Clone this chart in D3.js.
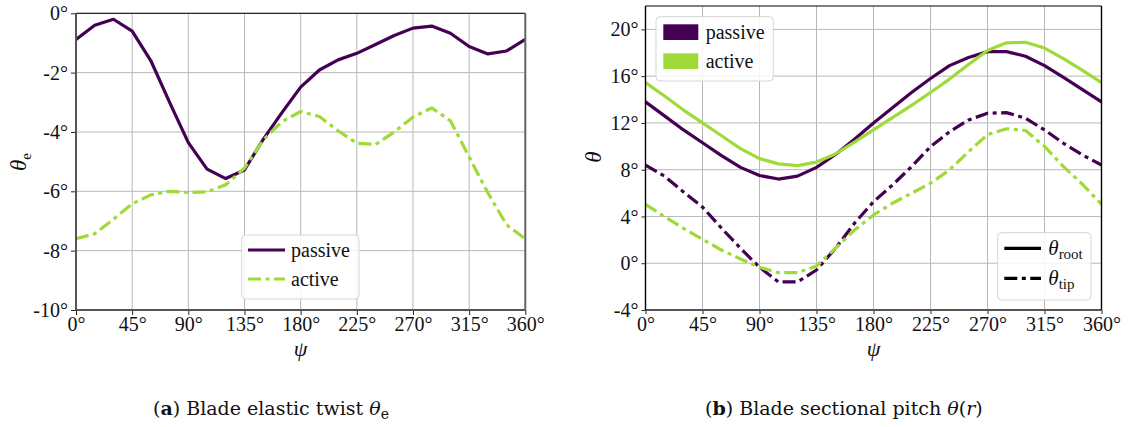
<!DOCTYPE html>
<html>
<head>
<meta charset="utf-8">
<script src="https://cdn.jsdelivr.net/npm/d3@7/dist/d3.min.js"></script>
<style>
  html, body { margin: 0; padding: 0; background: #fff; }
  svg { display: block; }
  svg text { font-family: "Liberation Serif", "DejaVu Serif", "Noto Serif", serif; fill: #111; }
  svg text.caption { font-family: "DejaVu Serif", "Liberation Serif", serif; }
</style>
</head>
<body>
<svg id="fig" width="1130" height="427"></svg>
<script>
// Azimuth samples (deg)
const psi = [0, 15, 30, 45, 60, 75, 90, 105, 120, 135, 150, 165, 180,
             195, 210, 225, 240, 255, 270, 285, 300, 315, 330, 345, 360];

// Blade elastic twist theta_e (deg)
const twistPassive = [-0.88, -0.40, -0.20, -0.60, -1.60, -3.00, -4.36, -5.25, -5.57, -5.28,
                      -4.25, -3.35, -2.49, -1.91, -1.57, -1.35, -1.05, -0.75, -0.50, -0.43,
                      -0.67, -1.12, -1.37, -1.27, -0.88];
const twistActive = [-7.60, -7.43, -6.94, -6.42, -6.12, -6.00, -6.04, -6.02, -5.78, -5.22,
                     -4.27, -3.65, -3.31, -3.48, -3.96, -4.38, -4.42, -4.00, -3.50, -3.19,
                     -3.62, -4.84, -6.05, -7.13, -7.60];

// Blade sectional pitch theta(r) (deg)
const rootPassive = [13.8, 12.6, 11.4, 10.3, 9.2, 8.2, 7.5, 7.2, 7.45, 8.2,
                     9.3, 10.6, 12.0, 13.3, 14.6, 15.8, 16.9, 17.6, 18.1, 18.1,
                     17.7, 16.9, 15.9, 14.85, 13.8];
const rootActive = [15.45, 14.3, 13.1, 12.0, 10.9, 9.8, 8.95, 8.5, 8.35, 8.65,
                    9.35, 10.35, 11.4, 12.45, 13.5, 14.6, 15.75, 17.0, 18.2, 18.85,
                    18.9, 18.4, 17.5, 16.5, 15.45];
const tipPassive = [8.4, 7.45, 6.1, 4.8, 3.0, 1.28, -0.35, -1.6, -1.6, -0.58,
                    1.28, 3.42, 5.26, 6.69, 8.26, 9.97, 11.25, 12.25, 12.83, 12.88,
                    12.4, 11.4, 10.26, 9.26, 8.4];
const tipActive = [5.04, 3.98, 2.99, 2.05, 1.13, 0.36, -0.35, -0.81, -0.81, -0.24,
                   1.28, 2.84, 4.13, 5.13, 5.98, 6.84, 7.98, 9.54, 11.0, 11.5,
                   11.35, 10.0, 8.26, 6.75, 5.04];

// Axis ticks
const psiTicks = [0, 45, 90, 135, 180, 225, 270, 315, 360];
const twistTicks = [0, -2, -4, -6, -8, -10];
const pitchTicks = [-4, 0, 4, 8, 12, 16, 20];

const PURPLE = "#440154";
const GREEN = "#a0da39";
const DASHDOT = "13,4.5,4,4.5";
const LW = 3.2;
const FONT = '"Liberation Serif", "DejaVu Serif", "Noto Serif", serif';

const svg = d3.select("#fig");

function deg(v) { return v + "\u00b0"; }

function panel(opts) {
  const g = svg.append("g");
  const x = d3.scaleLinear().domain([0, 360]).range([opts.x0, opts.x1]);
  const y = d3.scaleLinear().domain(opts.ydom).range([opts.y1, opts.y0]);

  // grid
  g.append("g").selectAll("line").data(psiTicks).join("line")
    .attr("x1", d => x(d)).attr("x2", d => x(d))
    .attr("y1", opts.y0).attr("y2", opts.y1)
    .attr("stroke", "#b8b8b8").attr("stroke-width", 1);
  g.append("g").selectAll("line").data(opts.yticks).join("line")
    .attr("y1", d => y(d)).attr("y2", d => y(d))
    .attr("x1", opts.x0).attr("x2", opts.x1)
    .attr("stroke", "#b8b8b8").attr("stroke-width", 1);

  // axes
  const xAxis = d3.axisBottom(x).tickValues(psiTicks).tickFormat(deg)
    .tickSize(opts.tick).tickPadding(3);
  const yAxis = d3.axisLeft(y).tickValues(opts.yticks).tickFormat(deg)
    .tickSize(opts.tick).tickPadding(3);
  const ga = g.append("g").attr("transform", `translate(0,${opts.y1})`).call(xAxis);
  const gb = g.append("g").attr("transform", `translate(${opts.x0},0)`).call(yAxis);
  [ga, gb].forEach(a => {
    a.attr("font-family", FONT);
    a.select(".domain").remove();
    a.selectAll(".tick line").attr("stroke", "#222").attr("stroke-width", 1);
    a.selectAll(".tick text").attr("font-size", 20).attr("fill", "#111");
  });
  ga.selectAll(".tick text").attr("y", 4).attr("dy", "0.85em");
  gb.selectAll(".tick text").attr("dy", "0.33em");

  // curves
  const line = vals => d3.line().x((d, i) => x(psi[i])).y(d => y(d))(vals);
  opts.series.forEach(s => {
    g.append("path").attr("d", line(s.values))
      .attr("fill", "none").attr("stroke", s.color)
      .attr("stroke-width", LW).attr("stroke-linejoin", "round")
      .attr("stroke-dasharray", s.dash || null);
  });

  // frame
  const sp = opts.spines;
  const edge = (x1, y1, x2, y2, st) => g.append("line")
    .attr("x1", x1).attr("y1", y1).attr("x2", x2).attr("y2", y2)
    .attr("stroke", st[0]).attr("stroke-width", st[1]);
  edge(opts.x0, opts.y0, opts.x1, opts.y0, sp.top);
  edge(opts.x0, opts.y1, opts.x1, opts.y1, sp.bottom);
  edge(opts.x0, opts.y0, opts.x0, opts.y1, sp.left);
  edge(opts.x1, opts.y0, opts.x1, opts.y1, sp.right);

  // x label
  g.append("text").attr("x", (opts.x0 + opts.x1) / 2).attr("y", 356)
    .attr("text-anchor", "middle").attr("font-size", 22)
    .attr("font-style", "italic").text("\u03c8");

  return { g, x, y };
}

// (a) elastic twist
panel({
  x0: 76, x1: 525.3, y0: 13.3, y1: 310, ydom: [-10, 0], yticks: twistTicks, tick: 5,
  spines: { top: ["#000", 1], bottom: ["#555", 2], left: ["#555", 2], right: ["#666", 2] },
  series: [
    { values: twistPassive, color: PURPLE },
    { values: twistActive, color: GREEN, dash: DASHDOT }
  ]
});

// (b) sectional pitch
panel({
  x0: 645.5, x1: 1101.5, y0: 6, y1: 310, ydom: [-4, 22], yticks: pitchTicks, tick: 4,
  spines: { top: ["#000", 1.2], bottom: ["#555", 2], left: ["#000", 1.4], right: ["#000", 1.4] },
  series: [
    { values: rootPassive, color: PURPLE },
    { values: rootActive, color: GREEN },
    { values: tipPassive, color: PURPLE, dash: DASHDOT },
    { values: tipActive, color: GREEN, dash: DASHDOT }
  ]
});

// y labels
function thetaLabel(x, y, sub) {
  const t = svg.append("text")
    .attr("transform", `translate(${x},${y}) rotate(-90)`)
    .attr("text-anchor", "middle").attr("font-size", 23);
  t.append("tspan").attr("font-style", "italic").text("\u03b8");
  if (sub) t.append("tspan").attr("font-size", 15).attr("dy", 5).text(sub);
}
thetaLabel(26, 162, "e");
thetaLabel(601, 157, null);

// legend box helper
function legendBox(x0, y0, w, h) {
  svg.append("rect").attr("x", x0).attr("y", y0).attr("width", w).attr("height", h)
    .attr("rx", 4).attr("fill", "#fff").attr("fill-opacity", 0.85)
    .attr("stroke", "#d6d6d6").attr("stroke-width", 1);
}

// legend (a)
legendBox(241.7, 235, 117.3, 64);
[{ name: "passive", color: PURPLE, dash: null, yy: 250 },
 { name: "active", color: GREEN, dash: DASHDOT, yy: 279 }].forEach(e => {
  svg.append("line").attr("x1", 248).attr("x2", 285).attr("y1", e.yy).attr("y2", e.yy)
    .attr("stroke", e.color).attr("stroke-width", LW).attr("stroke-dasharray", e.dash);
  svg.append("text").attr("x", 291).attr("y", e.yy + 7).attr("font-size", 20).text(e.name);
});

// legend (b) colours
legendBox(656, 16.7, 117.3, 64.3);
[{ name: "passive", color: PURPLE, yy: 24.3 },
 { name: "active", color: GREEN, yy: 53.3 }].forEach(e => {
  svg.append("rect").attr("x", 663.3).attr("y", e.yy).attr("width", 35).attr("height", 15.7)
    .attr("fill", e.color);
  svg.append("text").attr("x", 705.7).attr("y", e.yy + 14.5).attr("font-size", 20).text(e.name);
});

// legend (b) line styles
legendBox(997.7, 232.7, 93.3, 67.3);
[{ sub: "root", dash: null, yy: 248.3 },
 { sub: "tip", dash: DASHDOT, yy: 278.3 }].forEach(e => {
  svg.append("line").attr("x1", 1004.3).attr("x2", 1041).attr("y1", e.yy).attr("y2", e.yy)
    .attr("stroke", "#000").attr("stroke-width", LW).attr("stroke-dasharray", e.dash);
  const t = svg.append("text").attr("x", 1048.3).attr("y", e.yy + 7).attr("font-size", 21);
  t.append("tspan").attr("font-style", "italic").text("\u03b8");
  t.append("tspan").attr("font-size", 15).attr("dy", 4).text(e.sub);
});

// captions
function caption(x, letter, body, tail) {
  const t = svg.append("text").attr("class", "caption")
    .attr("x", x).attr("y", 415).attr("font-size", 19);
  t.append("tspan").text("(");
  t.append("tspan").attr("font-weight", "bold").text(letter);
  t.append("tspan").text(") " + body + " ");
  tail(t);
}
caption(153, "a", "Blade elastic twist", t => {
  t.append("tspan").attr("font-style", "italic").text("\u03b8");
  t.append("tspan").attr("font-size", 14).attr("dy", 4).text("e");
});
caption(705, "b", "Blade sectional pitch", t => {
  t.append("tspan").attr("font-style", "italic").text("\u03b8");
  t.append("tspan").text("(");
  t.append("tspan").attr("font-style", "italic").text("r");
  t.append("tspan").text(")");
});
</script>
</body>
</html>
